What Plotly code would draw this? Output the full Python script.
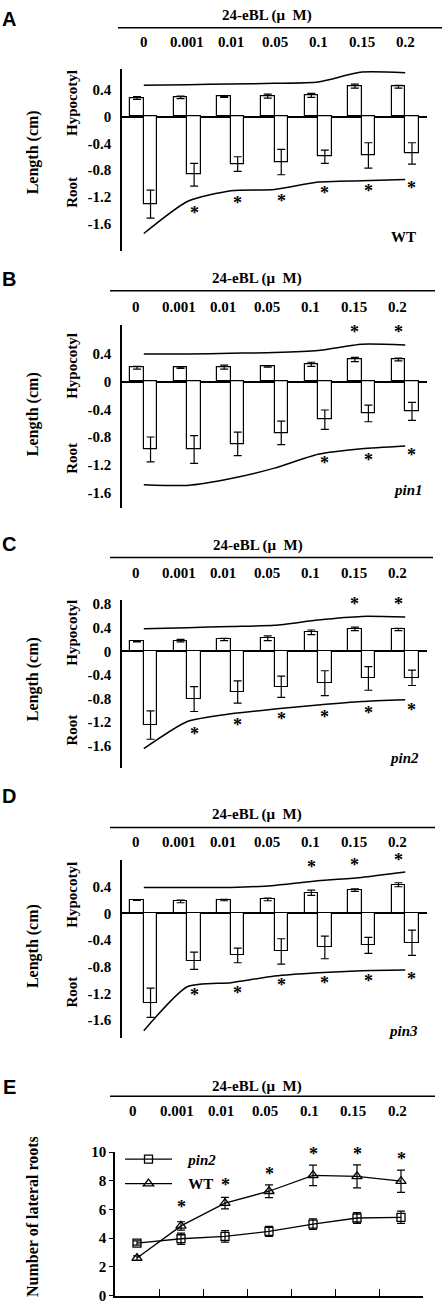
import plotly.graph_objects as go

# ---------------- data ----------------
conc = ["0", "0.001", "0.01", "0.05", "0.1", "0.15", "0.2"]
idx = list(range(len(conc)))

# Panel A (WT)
hypA = [0.28, 0.29, 0.30, 0.31, 0.32, 0.46, 0.45]
hypA_err = [0.02, 0.02, 0.01, 0.03, 0.03, 0.03, 0.02]
rootA = [-1.31, -0.87, -0.71, -0.68, -0.60, -0.58, -0.55]
rootA_err = [0.21, 0.17, 0.11, 0.19, 0.10, 0.19, 0.16]
hypA_trend = [0.47, 0.48, 0.49, 0.50, 0.52, 0.67, 0.66]
rootA_trend = [-1.75, -1.27, -1.11, -1.09, -0.98, -0.96, -0.94]
hypA_star = [None, None, None, None, None, 0.75, 0.75]
rootA_star = [None, -1.47, -1.32, -1.29, -1.17, -1.15, -1.10]

# Panel B (pin1)
hypB = [0.20, 0.20, 0.21, 0.22, 0.25, 0.32, 0.32]
hypB_err = [0.02, 0.01, 0.03, 0.01, 0.03, 0.03, 0.02]
rootB = [-0.98, -0.98, -0.90, -0.74, -0.55, -0.46, -0.43]
rootB_err = [0.18, 0.20, 0.17, 0.17, 0.14, 0.12, 0.13]
hypB_trend = [0.40, 0.40, 0.41, 0.42, 0.45, 0.54, 0.53]
rootB_trend = [-1.49, -1.50, -1.40, -1.25, -1.05, -0.97, -0.93]
hypB_star = [None, None, None, None, None, 0.69, 0.69]
rootB_star = [None, None, None, None, -1.20, -1.16, -1.09]

# Panel C (pin2)
hypC = [0.17, 0.18, 0.20, 0.22, 0.32, 0.38, 0.37]
hypC_err = [0.01, 0.02, 0.02, 0.04, 0.04, 0.03, 0.02]
rootC = [-1.25, -0.81, -0.69, -0.60, -0.54, -0.46, -0.45]
rootC_err = [0.24, 0.21, 0.19, 0.18, 0.21, 0.20, 0.13]
hypC_trend = [0.38, 0.40, 0.42, 0.44, 0.53, 0.59, 0.58]
rootC_trend = [-1.65, -1.19, -1.06, -0.98, -0.91, -0.85, -0.82]
hypC_star = [None, None, None, None, None, 0.77, 0.77]
rootC_star = [None, -1.44, -1.29, -1.18, -1.14, -1.08, -1.03]

# Panel D (pin3)
hypD = [0.20, 0.18, 0.20, 0.21, 0.31, 0.35, 0.43]
hypD_err = [0.005, 0.02, 0.01, 0.02, 0.04, 0.02, 0.03]
rootD = [-1.34, -0.71, -0.63, -0.57, -0.51, -0.48, -0.44]
rootD_err = [0.22, 0.13, 0.11, 0.19, 0.17, 0.12, 0.19]
hypD_trend = [0.39, 0.39, 0.39, 0.42, 0.49, 0.54, 0.62]
rootD_trend = [-1.76, -1.10, -1.04, -0.94, -0.89, -0.86, -0.85]
hypD_star = [None, None, None, None, 0.67, 0.69, 0.77]
rootD_star = [None, -1.26, -1.22, -1.11, -1.08, -1.04, -1.01]

# Panel E (lateral roots)
lat_pin2 = [3.65, 3.95, 4.12, 4.46, 4.97, 5.40, 5.45]
lat_pin2_err = [0.15, 0.40, 0.40, 0.35, 0.37, 0.38, 0.43]
lat_wt = [2.60, 4.85, 6.44, 7.27, 8.38, 8.31, 7.97]
lat_wt_err = [0.15, 0.29, 0.40, 0.44, 0.72, 0.80, 0.78]
lat_star = [None, 6.0, 7.6, 8.36, 9.75, 9.7, 9.4]

lat_ticks = [0, 2, 4, 6, 8, 10]

# ---------------- layout helpers ----------------
W, H = 444, 1308
SERIF = "Liberation Serif"
SANS = "Liberation Sans"


def fx(px):
    return px / W


def fy(py):
    return 1 - py / H


def tick_text(v):
    if v == 0:
        return "0"
    return f"{v:.1f}"


fig = go.Figure()
annotations = []
shapes = []

panels = [
    dict(letter="A", geno="<b>WT</b>", hyp=hypA, hyp_err=hypA_err, root=rootA, root_err=rootA_err,
         htr=hypA_trend, rtr=rootA_trend, hs=hypA_star, rs=rootA_star,
         ydom=(63, 247), yr=[-2.015, 0.711], ticks=[0.4, 0, -0.4, -0.8, -1.2, -1.6],
         head=(9, 21, 35, 118, 442, 267, 0), letter_y=12,
         side=(147, 97, 188), geno_pos=(403, 233)),
    dict(letter="B", geno="<b><i>pin1</i></b>", hyp=hypB, hyp_err=hypB_err, root=rootB, root_err=rootB_err,
         htr=hypB_trend, rtr=rootB_trend, hs=hypB_star, rs=rootB_star,
         ydom=(322, 507), yr=[-1.829, 0.814], ticks=[0.4, 0, -0.4, -0.8, -1.2, -1.6],
         head=(275, 287, 303, 110, 435, 257, -8), letter_y=275,
         side=(412, 363, 457), geno_pos=(408, 489)),
    dict(letter="C", geno="<b><i>pin2</i></b>", hyp=hypC, hyp_err=hypC_err, root=rootC, root_err=rootC_err,
         htr=hypC_trend, rtr=rootC_trend, hs=hypC_star, rs=rootC_star,
         ydom=(600, 770), yr=[-1.98, 0.866], ticks=[0.8, 0.4, 0, -0.4, -0.8, -1.2, -1.6],
         head=(545, 557, 573, 110, 433, 258, -8), letter_y=543,
         side=(680, 633, 732), geno_pos=(404, 760)),
    dict(letter="D", geno="<b><i>pin3</i></b>", hyp=hypD, hyp_err=hypD_err, root=rootD, root_err=rootD_err,
         htr=hypD_trend, rtr=rootD_trend, hs=hypD_star, rs=rootD_star,
         ydom=(863, 1043), yr=[-1.87, 0.80], ticks=[0.4, 0, -0.4, -0.8, -1.2, -1.6],
         head=(817, 830, 845, 110, 435, 257, -8), letter_y=798,
         side=(950, 898, 997), geno_pos=(403, 1036)),
]

BW = 0.31
bar_marker = dict(color="white", line=dict(color="black", width=1.2))


def add_header(title_y, line_y, lab_y, lx0, lx1, tx, shift, xref):
    annotations.append(dict(text="<b>24-eBL (\u03bc\u00a0 M)</b>", x=fx(tx), y=fy(title_y),
                            xref="paper", yref="paper", showarrow=False,
                            font=dict(family=SERIF, size=15, color="black"),
                            xanchor="center", yanchor="middle"))
    shapes.append(dict(type="line", xref="paper", yref="paper", x0=fx(lx0), x1=fx(lx1),
                       y0=fy(line_y), y1=fy(line_y), line=dict(color="black", width=1.5)))
    for i, c in enumerate(conc):
        annotations.append(dict(text=f"<b>{c}</b>", x=i, y=fy(lab_y), xref=xref, yref="paper",
                                xshift=shift, showarrow=False,
                                font=dict(family=SERIF, size=15, color="black"),
                                xanchor="center", yanchor="middle"))


def add_star(x, y, xref, yref):
    annotations.append(dict(text="<b>*</b>", x=x, y=y, xref=xref, yref=yref, showarrow=False,
                            yshift=2, font=dict(family=SERIF, size=18, color="black"),
                            xanchor="center", yanchor="middle"))


def add_letter(letter, y):
    annotations.append(dict(text=f"<b>{letter}</b>", x=fx(9), y=fy(y), xref="paper", yref="paper",
                            showarrow=False, font=dict(family=SANS, size=20, color="black"),
                            xanchor="center", yanchor="middle"))


def add_side(text, x, y, size=16):
    annotations.append(dict(text=f"<b>{text}</b>", x=fx(x), y=fy(y), xref="paper", yref="paper",
                            showarrow=False, textangle=-90,
                            font=dict(family=SERIF, size=size, color="black"),
                            xanchor="center", yanchor="middle"))


for k, p in enumerate(panels, start=1):
    xa = "x" if k == 1 else f"x{k}"
    ya = "y" if k == 1 else f"y{k}"
    fig.add_trace(go.Bar(x=idx, y=p["hyp"], width=BW, offset=-BW, marker=bar_marker,
                         error_y=dict(type="data", array=p["hyp_err"], color="black", thickness=1.2, width=4),
                         xaxis=xa, yaxis=ya, showlegend=False))
    fig.add_trace(go.Bar(x=idx, y=p["root"], width=BW, offset=0, marker=bar_marker,
                         error_y=dict(type="data", array=p["root_err"], color="black", thickness=1.2, width=4),
                         xaxis=xa, yaxis=ya, showlegend=False))
    for tr in (p["htr"], p["rtr"]):
        fig.add_trace(go.Scatter(x=idx, y=tr, mode="lines",
                                 line=dict(color="black", width=1.5, shape="spline", smoothing=0.6),
                                 xaxis=xa, yaxis=ya, showlegend=False, cliponaxis=False))
    for i in idx:
        if p["hs"][i] is not None:
            add_star(i - BW / 2, p["hs"][i], xa, ya)
        if p["rs"][i] is not None:
            add_star(i + BW / 2, p["rs"][i], xa, ya)

    axname = "" if k == 1 else str(k)
    fig.update_layout(**{
        f"xaxis{axname}": dict(domain=[fx(122), fx(427)], range=[-0.5, 6.5], showline=False,
                               showticklabels=False, showgrid=False, zeroline=False, ticks="",
                               anchor=ya, fixedrange=True),
        f"yaxis{axname}": dict(domain=[fy(p["ydom"][1]), fy(p["ydom"][0])], range=p["yr"],
                               showline=True, linecolor="black", linewidth=1.5, ticks="",
                               tickvals=p["ticks"], ticktext=[f"<b>{tick_text(v)}</b>" for v in p["ticks"]],
                               tickfont=dict(family=SERIF, size=15, color="black"),
                               ticklabelstandoff=6, ticklabeloverflow="allow",
                               showgrid=False, zeroline=True, zerolinecolor="black", zerolinewidth=1.5,
                               anchor=xa, fixedrange=True),
    })

    add_header(*p["head"], xref=xa)
    add_letter(p["letter"], p["letter_y"])
    add_side("Length (cm)", 33, p["side"][0], 16)
    add_side("Hypocotyl", 72, p["side"][1], 15)
    add_side("Root", 72, p["side"][2], 15)
    annotations.append(dict(text=p["geno"], x=fx(p["geno_pos"][0]), y=fy(p["geno_pos"][1]),
                            xref="paper", yref="paper", showarrow=False,
                            font=dict(family=SERIF, size=15, color="black"),
                            xanchor="center", yanchor="middle"))

# ---------------- panel E ----------------
fig.add_trace(go.Scatter(x=idx, y=lat_pin2, mode="lines+markers",
                         name="\u00a0\u00a0\u00a0<i>pin2</i>",
                         line=dict(color="black", width=1.3),
                         marker=dict(symbol="square-open", size=8, color="black", line=dict(width=1.3)),
                         error_y=dict(type="data", array=lat_pin2_err, color="black", thickness=1.2, width=4),
                         xaxis="x5", yaxis="y5", legendgroup="a", cliponaxis=False))
fig.add_trace(go.Scatter(x=idx, y=lat_wt, mode="lines+markers", name="\u00a0\u00a0\u00a0WT",
                         line=dict(color="black", width=1.3),
                         marker=dict(symbol="triangle-up-open", size=9, color="black", line=dict(width=1.3)),
                         error_y=dict(type="data", array=lat_wt_err, color="black", thickness=1.2, width=4),
                         xaxis="x5", yaxis="y5", legendgroup="b", cliponaxis=False))
for i in idx:
    if lat_star[i] is not None:
        add_star(i, lat_star[i], "x5", "y5")

fig.update_layout(
    xaxis5=dict(domain=[fx(115), fx(423)], range=[-0.5, 6.5], showline=True, linecolor="black",
                linewidth=1.5, tickvals=[i - 0.5 for i in range(8)], ticks="inside", ticklen=7,
                tickwidth=1.2, tickcolor="black", showticklabels=False, showgrid=False,
                zeroline=False, anchor="y5", fixedrange=True),
    yaxis5=dict(domain=[fy(1304), fy(1158)], range=[-0.05, 10.03], showline=True, linecolor="black",
                linewidth=1.5, tickvals=lat_ticks, ticktext=[f"<b>{v}</b>" for v in lat_ticks],
                ticks="outside", ticklen=4, tickwidth=1.2, tickcolor="black",
                tickfont=dict(family=SERIF, size=15, color="black"), ticklabeloverflow="allow",
                showgrid=False, zeroline=False, anchor="x5", fixedrange=True),
)
add_header(1092, 1102, 1117, 110, 435, 257, -4, xref="x5")
add_letter("E", 1093)
add_side("Number of lateral roots", 33, 1224, 16)

fig.update_layout(
    width=W, height=H,
    margin=dict(l=0, r=0, t=0, b=0),
    paper_bgcolor="white", plot_bgcolor="white",
    showlegend=True,
    legend=dict(x=fx(120), y=fy(1149), xanchor="left", yanchor="top",
                bgcolor="rgba(0,0,0,0)", borderwidth=0, itemwidth=47,
                tracegroupgap=2, font=dict(family=SERIF, size=15, color="black", weight="bold")),
    annotations=annotations,
    shapes=shapes,
    bargap=0, barmode="overlay",
)

fig.write_html("out.html", config={"displayModeBar": False},
               post_script="document.body.style.margin='0';document.body.style.padding='0';")
